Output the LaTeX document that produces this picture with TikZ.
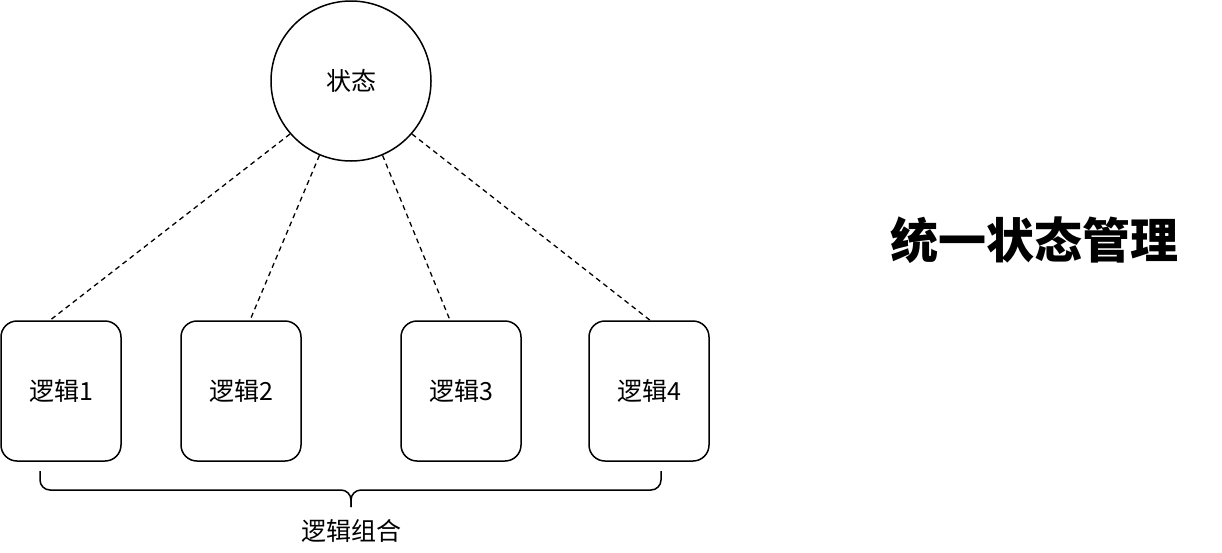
\documentclass[tikz,border=0pt]{standalone}
\usepackage{fontspec}
\newfontfamily\cjk{Noto Sans CJK SC}
\begin{document}
\begin{tikzpicture}[x=1pt,y=-1pt,
  logicbox/.style={draw,line width=1.5pt,rounded corners=16pt,minimum width=120pt,minimum height=140pt,inner sep=0pt,font=\cjk\fontsize{25}{30}\selectfont},
  link/.style={line width=1.3pt,dash pattern=on 5pt off 4pt}]
\useasboundingbox (0,0) rectangle (1222,552);
\node[draw,line width=1.5pt,circle,minimum size=160pt,inner sep=0pt,font=\cjk\fontsize{25}{30}\selectfont] (state) at (351,81) {状态};
\node[logicbox] (b1) at (61,391) {逻辑1};
\node[logicbox] (b2) at (241,391) {逻辑2};
\node[logicbox] (b3) at (461,391) {逻辑3};
\node[logicbox] (b4) at (649,391) {逻辑4};
\draw[link] (state.221) -- ([xshift=-11pt]b1.north);
\draw[link] (state.247) -- ([xshift=9pt]b2.north);
\draw[link] (state.293) -- ([xshift=-11pt]b3.north);
\draw[link] (state.319) -- ([xshift=1pt]b4.north);
\coordinate (bl) at (40,471);
\coordinate (br) at (661,471);
\coordinate (tip) at (351,507);
\draw[line width=1.5pt] (bl) -- ++(0,9) arc[start angle=180,end angle=90,radius=10] -- (341,490) arc[start angle=-90,end angle=0,radius=10] -- (tip);
\draw[line width=1.5pt] (br) -- ++(0,9) arc[start angle=0,end angle=90,radius=10] -- (361,490) arc[start angle=270,end angle=180,radius=10] -- (tip);
\node[font=\cjk\fontsize{25}{30}\selectfont] (lbl) at (351,531) {逻辑组合};
\node[font=\cjk\bfseries\fontsize{48}{58}\selectfont] (title) at (1034,240) {统一状态管理};
\end{tikzpicture}
\end{document}
